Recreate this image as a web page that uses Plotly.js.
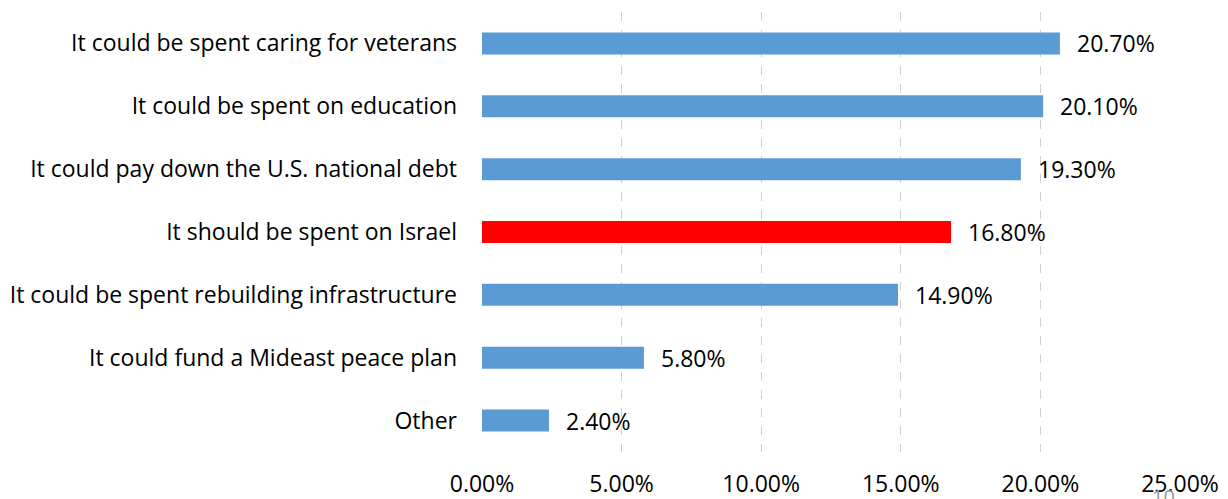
<!DOCTYPE html>
<html><head><meta charset="utf-8">
<script src="https://cdn.plot.ly/plotly-3.0.1.min.js"></script>
<style>html,body{margin:0;padding:0;background:#fff;}#chart{width:1228px;height:499px;}</style>
</head><body><div id="chart"></div>
<script>
var categories = [
  "It could be spent caring for veterans",
  "It could be spent on education",
  "It could pay down the U.S. national debt",
  "It should be spent on Israel",
  "It could be spent rebuilding infrastructure",
  "It could fund a Mideast peace plan",
  "Other"
];
var values = [20.7, 20.1, 19.3, 16.8, 14.9, 5.8, 2.4];
var barColors = ["#5B9BD5","#5B9BD5","#5B9BD5","#FF0000","#5B9BD5","#5B9BD5","#5B9BD5"];
var tickVals = [0, 5, 10, 15, 20, 25];
var tickText = ["0.00%","5.00%","10.00%","15.00%","20.00%","25.00%"];
var pageNumber = "10";

var font = "'Open Sans', sans-serif";
var trace = {
  type: "bar", orientation: "h",
  y: categories, x: values,
  marker: {color: barColors},
  width: 0.35,
  hoverinfo: "none"
};
var annotations = values.map(function(v, i){
  return {x: v, y: categories[i], xref: "x", yref: "y", text: v.toFixed(2) + "%",
    showarrow: false, xanchor: "left", xshift: 15, font: {family: font, size: 23, color: "#000"}};
});
annotations.push({xref: "paper", yref: "paper", x: (1163-482)/698, y: -0.065, xanchor: "center", yanchor: "top",
  text: pageNumber, showarrow: false, font: {family: font, size: 20, color: "#999"}});

var layout = {
  width: 1228, height: 499,
  margin: {l: 482, r: 48, t: 11.5, b: 46.5, pad: 0},
  paper_bgcolor: "#fff", plot_bgcolor: "#fff",
  showlegend: false,
  font: {family: font, size: 23, color: "#000"},
  xaxis: {range: [0, 25], tickvals: tickVals, ticktext: tickText, showgrid: true,
    gridcolor: "#d0d0d0", griddash: "dash", gridwidth: 1, zeroline: false, showline: false,
    ticks: "", ticklabelstandoff: 16, tickfont: {family: font, size: 23, color: "#000"}, fixedrange: true},
  yaxis: {autorange: "reversed", showgrid: false, zeroline: false, showline: false,
    ticks: "", ticklabelstandoff: 24, tickfont: {family: font, size: 23, color: "#000"}, fixedrange: true},
  annotations: annotations
};
Plotly.newPlot("chart", [trace], layout, {displayModeBar: false, staticPlot: true});
</script></body></html>
